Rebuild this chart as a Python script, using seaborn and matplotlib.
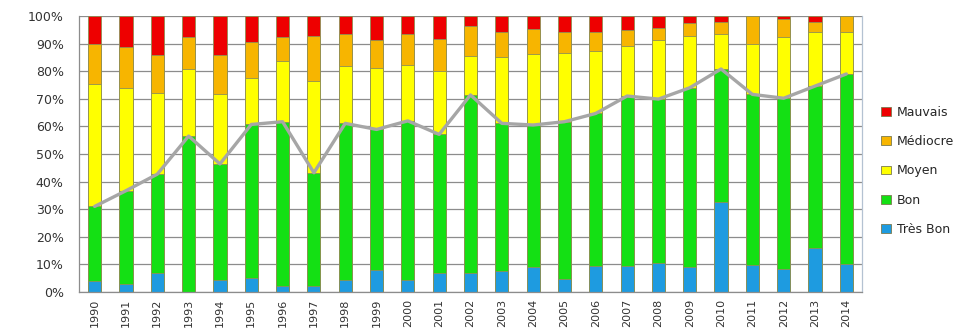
import numpy as np
import pandas as pd
import matplotlib
matplotlib.use("Agg")
import matplotlib.pyplot as plt
from matplotlib.patches import Patch
from matplotlib.ticker import FixedLocator, FuncFormatter
import seaborn as sns

# Water-quality class shares per year (% of stations)
years = [str(y) for y in range(1990, 2015)]
tres_bon = [4.0, 3.0, 7.0, 0.0, 4.3, 5.2, 2.2, 2.2, 4.3, 8.0, 4.3, 6.8, 6.8,
            7.7, 9.2, 4.6, 9.4, 9.4, 10.4, 9.2, 32.5, 9.8, 8.2, 16.0, 10.1]
bon = [27.0, 33.7, 35.7, 56.5, 42.1, 55.5, 59.5, 41.0, 56.8, 50.9, 57.7, 50.3, 64.6,
       53.4, 51.3, 57.1, 55.3, 61.6, 59.5, 64.8, 48.3, 61.8, 62.0, 58.6, 68.9]
moyen = [44.3, 37.1, 29.5, 24.2, 25.3, 17.0, 22.1, 33.2, 20.8, 22.1, 20.2, 22.9, 14.2,
         23.9, 25.7, 24.8, 22.6, 18.2, 21.4, 18.9, 12.6, 18.1, 22.3, 19.5, 15.1]
mediocre = [14.7, 14.8, 13.7, 11.8, 14.2, 12.8, 8.7, 16.5, 11.5, 10.3, 11.2, 11.8, 10.8,
            9.1, 9.0, 7.6, 6.8, 5.7, 4.2, 4.7, 4.5, 10.3, 6.3, 3.8, 5.9]
mauvais = [10.0, 11.4, 14.1, 7.5, 14.1, 9.5, 7.5, 7.1, 6.6, 8.7, 6.6, 8.2, 3.6,
           5.9, 4.8, 5.9, 5.9, 5.1, 4.5, 2.4, 2.1, 0.0, 1.2, 2.1, 0.0]

labels = ["Très Bon", "Bon", "Moyen", "Médiocre", "Mauvais"]
colors = ["#1E9BE0", "#14E014", "#FFFF00", "#F7B500", "#EE0000"]

df = pd.DataFrame({"year": years, "Très Bon": tres_bon, "Bon": bon,
                   "Moyen": moyen, "Médiocre": mediocre, "Mauvais": mauvais})
cum = df[labels].cumsum(axis=1)

sns.set_theme(style="white")
plt.rcParams["font.family"] = ["DejaVu Sans"]
plt.rcParams["font.size"] = 9

fig = plt.figure(figsize=(9.7, 3.28), dpi=100)
ax = fig.add_axes([79 / 970, 36 / 328, (862 - 79) / 970, (292 - 16) / 328])

# Stacked bars: draw cumulative totals from the top class down
for lab, col in zip(labels[::-1], colors[::-1]):
    sns.barplot(x=df["year"], y=cum[lab], color=col, saturation=1, width=0.42,
                edgecolor="#8f8f55", linewidth=0.6, ax=ax, zorder=2)

# Share of "Très Bon" + "Bon"
good = cum["Bon"].to_numpy()
sns.lineplot(x=np.arange(len(years)), y=good, color="#A6A6A6", linewidth=2.4,
             ax=ax, zorder=5)

ax.set_xlim(-0.5, len(years) - 0.5)
ax.set_ylim(0, 100)
ax.set_xlabel("")
ax.set_ylabel("")

ax.yaxis.set_major_locator(FixedLocator(np.arange(0, 101, 10)))
ax.yaxis.set_major_formatter(FuncFormatter(lambda v, p: f"{v:.0f}%"))
ax.yaxis.grid(True, color="#8c8c8c", linewidth=0.9)
ax.set_axisbelow(True)

ax.set_xticks(np.arange(len(years)))
ax.set_xticklabels(years, rotation=90)
ax.set_xticks(np.arange(-0.5, len(years)), minor=True)
ax.tick_params(axis="x", which="major", length=0, pad=5, labelsize=8, colors="#333333")
ax.tick_params(axis="x", which="minor", length=5, width=0.9, color="#8c8c8c", direction="out")
ax.tick_params(axis="y", which="major", length=5, width=0.9, color="#8c8c8c",
               direction="out", pad=6, labelsize=9, labelcolor="#333333")

for side in ["left", "bottom"]:
    ax.spines[side].set_color("#8c8c8c")
    ax.spines[side].set_linewidth(0.9)
ax.spines["top"].set_visible(False)
ax.spines["right"].set_color("#b4c2d2")
ax.spines["right"].set_linewidth(0.9)

handles = [Patch(facecolor=c, edgecolor="#7a7a50", linewidth=0.6, label=l)
           for l, c in zip(labels[::-1], colors[::-1])]
fig.legend(handles=handles, loc="upper left", bbox_to_anchor=(876 / 970, 1 - 101 / 328),
           frameon=False, fontsize=9, handlelength=0.8, handleheight=0.7,
           handletextpad=0.5, labelspacing=1.3, borderaxespad=0)

fig.savefig("out.png", dpi=100)
